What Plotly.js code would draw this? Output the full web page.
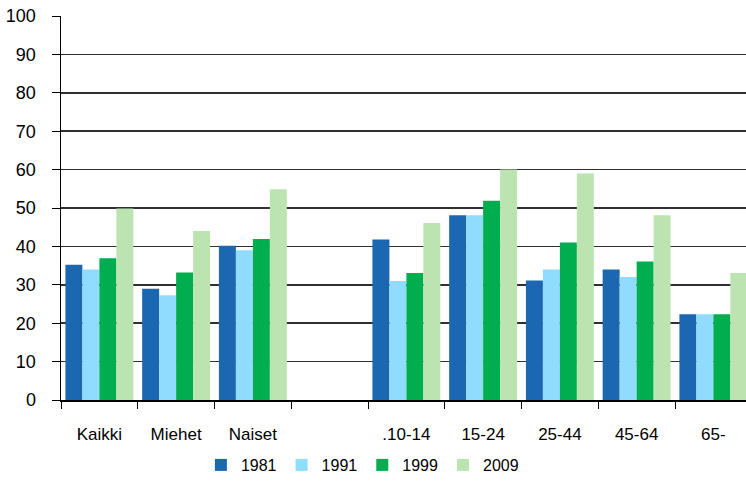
<!DOCTYPE html>
<html><head><meta charset="utf-8">
<script src="https://cdn.plot.ly/plotly-3.0.1.min.js"></script>
<style>html,body{margin:0;padding:0;background:#fff}#chart{width:746px;height:484px}</style>
</head><body><div id="chart"></div>
<script>
const categories = ["Kaikki", "Miehet", "Naiset", " ", ".10-14", "15-24", "25-44", "45-64", "65-"];
const seriesNames = ["1981", "1991", "1999", "2009"];
const v1981 = [35.2, 29.0, 40.2, null, 41.8, 48.1, 31.1, 34.0, 22.3];
const v1991 = [34.0, 27.3, 39.0, null, 31.0, 48.1, 34.0, 32.0, 22.3];
const v1999 = [36.9, 33.2, 41.9, null, 33.1, 51.9, 41.0, 36.1, 22.3];
const v2009 = [49.9, 44.0, 54.9, null, 46.1, 60.0, 59.0, 48.1, 33.1];
const colors = ["#1B67B1", "#90DCFF", "#00AD4F", "#BCE4B1"];
const values = [v1981, v1991, v1999, v2009];
const FONT = '"Liberation Sans Narrow", "Arial Narrow", "Liberation Sans", Arial, sans-serif';

const traces = seriesNames.map((n, i) => ({
  type: "bar", name: n, x: categories, y: values[i],
  marker: {color: colors[i], line: {width: 0}},
  hoverinfo: "x+y+name"
}));

const layout = {
  width: 746, height: 484,
  margin: {l: 61, r: 0, t: 16, b: 84},
  paper_bgcolor: "#fff", plot_bgcolor: "#fff",
  barmode: "group", bargap: 0.115, bargroupgap: 0,
  font: {family: FONT, size: 17, color: "#000"},
  showlegend: true,
  legend: {orientation: "h", x: 0.44, xanchor: "center", y: -0.125, yanchor: "top",
           font: {family: FONT, size: 16, color: "#000"}, itemwidth: 30, tracegroupgap: 0,
           bgcolor: "rgba(0,0,0,0)"},
  xaxis: {
    type: "category", range: [-0.5, 8.425], tickson: "boundaries",
    ticks: "outside", ticklen: 7, tickcolor: "#000", tickwidth: 1,
    showline: true, linecolor: "#000", linewidth: 1.5,
    showgrid: false, zeroline: false,
    tickfont: {family: FONT, size: 17, color: "#000"}, ticklabelstandoff: 18
  },
  yaxis: {
    range: [0, 100], dtick: 10, tick0: 0,
    ticks: "outside", ticklen: 8, tickcolor: "#000", tickwidth: 1,
    showline: true, linecolor: "#000", linewidth: 1.5,
    showgrid: true, gridcolor: "#303030", gridwidth: 1.5, zeroline: false,
    tickfont: {family: FONT, size: 18, color: "#000"}, ticklabelstandoff: 12
  }
};
Plotly.newPlot("chart", traces, layout, {displayModeBar: false, staticPlot: true});
</script></body></html>
